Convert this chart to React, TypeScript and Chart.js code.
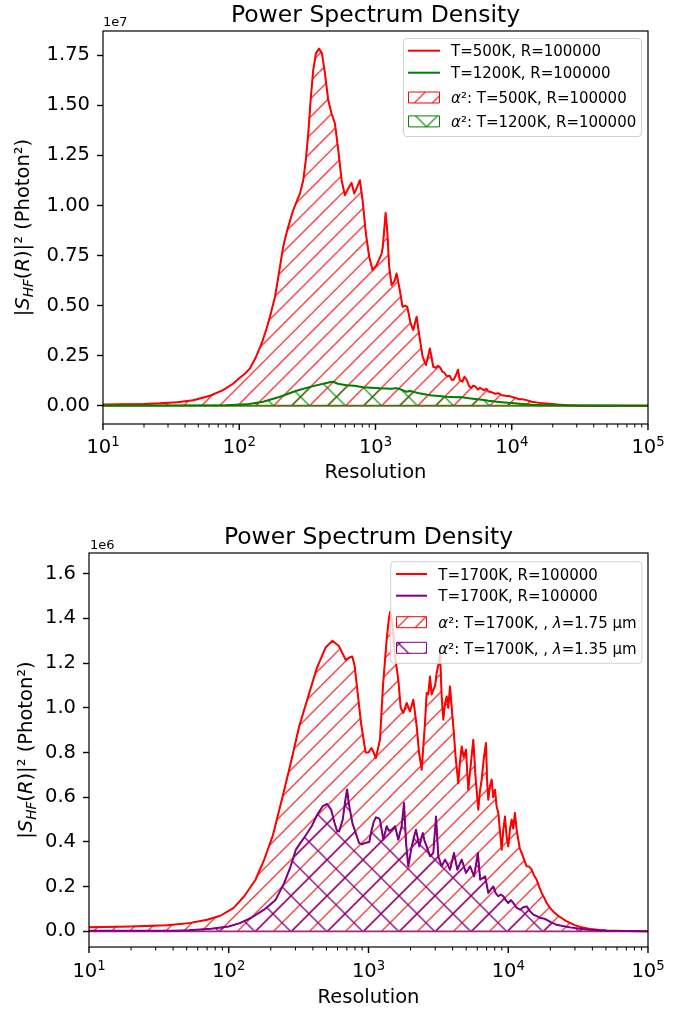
import React, { useEffect, useRef } from 'react';
import { Chart, registerables } from 'chart.js';

Chart.register(...registerables);

// ---------------- DATA ----------------
const TITLE = 'Power Spectrum Density';
const X_TITLE = 'Resolution';
const X_DECADES = [1, 2, 3, 4, 5];
const X_MINOR_MULT = [2, 3, 4, 5, 6, 7, 8, 9];
const TOP_Y_TICKS = [0, 0.25, 0.5, 0.75, 1.0, 1.25, 1.5, 1.75];
const BOT_Y_TICKS = [0, 0.2, 0.4, 0.6, 0.8, 1.0, 1.2, 1.4, 1.6];
const BASELINE_R = [10, 100000];
const BASELINE_V = [0, 0];

// top chart, values in units of 1e7
const TOP_RED_R = [10, 20, 26, 35, 46, 61, 76, 90, 101, 110, 120, 133, 146, 157, 168, 183, 199, 210, 225, 249, 279, 295, 308, 321, 334, 349, 365, 385, 405, 426, 450, 476, 504, 533, 564, 596, 631, 667, 698, 734, 768, 804, 850, 899, 952, 1019, 1109, 1130, 1153, 1186, 1219, 1260, 1312, 1387, 1428, 1492, 1580, 1650, 1710, 1811, 1893, 2004, 2120, 2218, 2345, 2508, 2654, 2780, 2880, 2990, 3100, 3200, 3350, 3500, 3620, 3740, 3880, 4030, 4150, 4340, 4500, 4670, 4850, 5030, 5200, 5420, 5650, 5850, 6050, 6300, 6500, 6750, 7100, 7550, 8000, 8430, 9000, 9750, 10500, 11270, 12100, 13040, 14000, 15080, 16800, 18800, 21500, 25300, 30000, 40000, 100000];
const TOP_RED_V = [0.006, 0.009, 0.012, 0.018, 0.028, 0.05, 0.078, 0.11, 0.14, 0.16, 0.187, 0.245, 0.311, 0.375, 0.444, 0.544, 0.694, 0.793, 0.877, 0.977, 1.06, 1.126, 1.226, 1.359, 1.525, 1.675, 1.758, 1.783, 1.758, 1.658, 1.525, 1.459, 1.409, 1.276, 1.126, 1.051, 1.085, 1.113, 1.06, 1.093, 1.126, 1.026, 0.86, 0.744, 0.677, 0.702, 0.76, 0.79, 0.86, 0.963, 0.877, 0.694, 0.602, 0.627, 0.66, 0.594, 0.494, 0.5, 0.494, 0.411, 0.378, 0.444, 0.328, 0.245, 0.203, 0.286, 0.195, 0.19, 0.2, 0.19, 0.17, 0.165, 0.146, 0.15, 0.13, 0.13, 0.15, 0.18, 0.13, 0.12, 0.145, 0.13, 0.1, 0.088, 0.1, 0.096, 0.08, 0.09, 0.083, 0.077, 0.085, 0.071, 0.068, 0.06, 0.062, 0.053, 0.05, 0.047, 0.04, 0.033, 0.032, 0.027, 0.02, 0.017, 0.012, 0.01, 0.006, 0.003, 0.001, 0, 0];

const TOP_GREEN_R = [10, 80, 113, 150, 199, 263, 348, 461, 490, 530, 610, 700, 810, 1075, 1300, 1419, 1500, 1684, 1800, 2100, 2502, 3320, 3900, 4340, 4850, 5420, 6050, 6750, 7550, 8430, 9400, 10480, 12000, 14000, 17000, 20000, 30000, 100000];
const TOP_GREEN_V = [0.001, 0.002, 0.007, 0.02, 0.045, 0.075, 0.098, 0.117, 0.12, 0.11, 0.103, 0.1, 0.092, 0.087, 0.085, 0.088, 0.084, 0.07, 0.074, 0.062, 0.053, 0.045, 0.043, 0.042, 0.037, 0.034, 0.03, 0.025, 0.021, 0.018, 0.015, 0.012, 0.009, 0.005, 0.003, 0.002, 0.001, 0];

// bottom chart, values in units of 1e6
const BOT_RED_R = [10, 20, 36, 52, 70, 87, 108, 129, 155, 179, 207, 240, 277, 320, 370, 428, 494, 552, 616, 686, 730, 765, 795, 822, 885, 954, 1000, 1049, 1090, 1128, 1208, 1270, 1349, 1400, 1430, 1480, 1549, 1634, 1700, 1775, 1876, 1981, 2093, 2213, 2300, 2403, 2536, 2608, 2680, 2754, 2830, 2910, 3000, 3074, 3180, 3249, 3340, 3430, 3530, 3627, 3720, 3831, 3940, 4047, 4200, 4394, 4500, 4642, 4800, 4987, 5080, 5180, 5400, 5622, 5850, 6107, 6250, 6454, 6700, 6931, 7050, 7197, 7400, 7616, 7800, 8043, 8250, 8493, 8750, 8977, 9200, 9480, 9750, 10010, 10300, 10580, 10850, 11170, 11500, 11800, 12100, 12470, 13000, 13550, 14100, 14710, 15300, 15980, 16600, 17350, 18100, 18840, 19900, 20990, 22500, 24100, 25800, 27660, 30000, 32600, 38450, 45000, 51000, 70000, 100000];
const BOT_RED_V = [0.019, 0.022, 0.027, 0.037, 0.052, 0.07, 0.104, 0.157, 0.23, 0.32, 0.43, 0.59, 0.75, 0.92, 1.05, 1.18, 1.27, 1.3, 1.275, 1.215, 1.225, 1.23, 1.19, 1.11, 0.93, 0.8, 0.8, 0.82, 0.8, 0.775, 0.857, 1.1, 1.305, 1.4, 1.43, 1.38, 1.23, 1.126, 1.0, 0.977, 1.022, 0.984, 1.036, 0.917, 0.8, 0.723, 0.932, 1.066, 1.06, 1.14, 1.06, 1.081, 1.1, 1.156, 1.2, 1.245, 1.05, 0.947, 1.02, 1.051, 1.0, 1.096, 1.0, 0.917, 0.78, 0.664, 0.75, 0.827, 0.78, 0.813, 0.72, 0.634, 0.75, 0.857, 0.68, 0.544, 0.62, 0.679, 0.78, 0.843, 0.68, 0.589, 0.65, 0.679, 0.6, 0.634, 0.56, 0.53, 0.44, 0.365, 0.45, 0.514, 0.42, 0.38, 0.46, 0.5, 0.46, 0.53, 0.45, 0.41, 0.37, 0.351, 0.32, 0.291, 0.29, 0.276, 0.25, 0.231, 0.2, 0.172, 0.15, 0.127, 0.105, 0.089, 0.072, 0.06, 0.047, 0.038, 0.028, 0.02, 0.011, 0.006, 0.004, 0.002, 0.001];

const BOT_PURPLE_R = [10, 40, 52, 75, 100, 120, 144, 179, 216, 249, 277, 302, 325, 356, 392, 428, 470, 505, 540, 572, 595, 616, 654, 680, 703, 720, 740, 770, 796, 830, 857, 900, 942, 1013, 1050, 1090, 1130, 1175, 1208, 1277, 1349, 1400, 1466, 1549, 1634, 1726, 1796, 1857, 1926, 2039, 2110, 2188, 2312, 2445, 2530, 2608, 2754, 2910, 3042, 3159, 3338, 3528, 3680, 3831, 4090, 4322, 4642, 4987, 5335, 5700, 6060, 6298, 6838, 7197, 7817, 8150, 8493, 8850, 9227, 9600, 10010, 10440, 10880, 11500, 12170, 12800, 13550, 14300, 15130, 16000, 16890, 17800, 18840, 20300, 22030, 27660, 36260, 50000, 100000];
const BOT_PURPLE_V = [0.003, 0.003, 0.005, 0.012, 0.022, 0.037, 0.06, 0.097, 0.14, 0.216, 0.29, 0.365, 0.395, 0.43, 0.47, 0.52, 0.56, 0.57, 0.545, 0.485, 0.45, 0.447, 0.5, 0.58, 0.635, 0.58, 0.537, 0.48, 0.455, 0.42, 0.395, 0.39, 0.395, 0.4, 0.45, 0.49, 0.51, 0.507, 0.5, 0.41, 0.47, 0.45, 0.455, 0.47, 0.41, 0.47, 0.574, 0.395, 0.291, 0.38, 0.42, 0.455, 0.38, 0.44, 0.4, 0.38, 0.336, 0.351, 0.514, 0.336, 0.291, 0.321, 0.3, 0.276, 0.351, 0.276, 0.321, 0.261, 0.291, 0.246, 0.351, 0.231, 0.246, 0.172, 0.201, 0.17, 0.157, 0.165, 0.157, 0.14, 0.127, 0.14, 0.127, 0.105, 0.097, 0.108, 0.112, 0.09, 0.075, 0.068, 0.06, 0.058, 0.052, 0.04, 0.03, 0.018, 0.008, 0.003, 0.001];

// ---------------- helpers ----------------
const FAMILY = '"DejaVu Sans", "Liberation Sans", sans-serif';
type Part = { t: string; it?: boolean; s?: number; dy?: number };

function fontStr(size: number, italic?: boolean) {
  return `${italic ? 'italic ' : ''}${size}px ${FAMILY}`;
}

function drawRich(ctx: CanvasRenderingContext2D, parts: Part[], x: number, y: number, size: number, align: 'left' | 'center') {
  const widths = parts.map((p) => {
    ctx.font = fontStr(size * (p.s || 1), p.it);
    return ctx.measureText(p.t).width;
  });
  const total = widths.reduce((a, b) => a + b, 0);
  let cx = align === 'center' ? x - total / 2 : x;
  ctx.textAlign = 'left';
  ctx.textBaseline = 'alphabetic';
  parts.forEach((p, i) => {
    ctx.font = fontStr(size * (p.s || 1), p.it);
    ctx.fillText(p.t, cx, y + (p.dy || 0));
    cx += widths[i];
  });
}

function hatch(color: string, lw: number, spacing: number, cross: boolean, ox: number, oy: number) {
  const T = 36;
  const cv = document.createElement('canvas');
  cv.width = T;
  cv.height = T;
  const g = cv.getContext('2d')!;
  g.strokeStyle = color;
  g.lineWidth = lw;
  g.beginPath();
  for (let c = -T; c <= 3 * T; c += spacing) {
    g.moveTo(c, 0);
    g.lineTo(c - T, T);
  }
  if (cross) {
    for (let c = -2 * T; c <= 2 * T; c += spacing) {
      g.moveTo(c, 0);
      g.lineTo(c + T, T);
    }
  }
  g.stroke();
  const p = g.createPattern(cv, 'repeat')!;
  p.setTransform(new DOMMatrix([1, 0, 0, 1, ox, oy]));
  return p;
}

function series(R: number[], V: number[]) {
  return R.map((r, i) => ({ x: r, y: V[i] }));
}

function lineDs(R: number[], V: number[], color: string, width: number, order: number) {
  return { data: series(R, V), borderColor: color, borderWidth: width, borderJoinStyle: 'round', pointRadius: 0, fill: false, tension: 0, order };
}

function fillDs(R: number[], V: number[], color: string, pattern: CanvasPattern, order: number) {
  return { data: series(R, V), borderColor: color, borderWidth: 1, pointRadius: 0, fill: 'origin', backgroundColor: pattern, tension: 0, order };
}

const Y_LABEL: Part[] = [
  { t: '|' },
  { t: 'S', it: true },
  { t: 'HF', it: true, s: 0.7, dy: 4 },
  { t: '(' },
  { t: 'R', it: true },
  { t: ')|' },
  { t: '²' },
  { t: ' (Photon²)' },
];

function roundRect(ctx: CanvasRenderingContext2D, x: number, y: number, w: number, h: number, r: number) {
  ctx.beginPath();
  ctx.moveTo(x + r, y);
  ctx.lineTo(x + w - r, y);
  ctx.quadraticCurveTo(x + w, y, x + w, y + r);
  ctx.lineTo(x + w, y + h - r);
  ctx.quadraticCurveTo(x + w, y + h, x + w - r, y + h);
  ctx.lineTo(x + r, y + h);
  ctx.quadraticCurveTo(x, y + h, x, y + h - r);
  ctx.lineTo(x, y + r);
  ctx.quadraticCurveTo(x, y, x + r, y);
  ctx.closePath();
}

function decorPlugin(spec: any) {
  return {
    id: 'mplDecor',
    afterDraw(chart: any) {
      const ctx: CanvasRenderingContext2D = chart.ctx;
      const a = chart.chartArea;
      const xs = chart.scales.x;
      const cx = (a.left + a.right) / 2;
      ctx.save();
      // frame
      ctx.strokeStyle = '#000';
      ctx.lineWidth = 1.2;
      ctx.strokeRect(a.left, a.top, a.right - a.left, a.bottom - a.top);
      // x ticks
      ctx.lineWidth = 1.4;
      X_DECADES.forEach((d) => {
        const px = xs.getPixelForValue(Math.pow(10, d));
        ctx.beginPath();
        ctx.moveTo(px, a.bottom);
        ctx.lineTo(px, a.bottom + 6);
        ctx.stroke();
      });
      ctx.lineWidth = 1;
      X_DECADES.slice(0, -1).forEach((d) => {
        X_MINOR_MULT.forEach((m) => {
          const px = xs.getPixelForValue(m * Math.pow(10, d));
          ctx.beginPath();
          ctx.moveTo(px, a.bottom);
          ctx.lineTo(px, a.bottom + 3.5);
          ctx.stroke();
        });
      });
      ctx.fillStyle = '#000';
      X_DECADES.forEach((d) => {
        const px = xs.getPixelForValue(Math.pow(10, d));
        drawRich(ctx, [{ t: '10' }, { t: String(d), s: 0.68, dy: -6.7 }], px, spec.xLabelY, 19.5, 'center');
      });
      drawRich(ctx, [{ t: X_TITLE }], cx, spec.xTitleY, 19.5, 'center');
      drawRich(ctx, [{ t: TITLE }], cx, spec.titleY, 23.5, 'center');
      drawRich(ctx, [{ t: spec.offsetText }], spec.offsetX, spec.offsetY, 13, 'left');
      // y label
      ctx.save();
      ctx.translate(spec.yLabelX, (a.top + a.bottom) / 2);
      ctx.rotate(-Math.PI / 2);
      drawRich(ctx, Y_LABEL, 0, 0, 19.5, 'center');
      ctx.restore();
      // legend
      const L = spec.legend;
      roundRect(ctx, L.x, L.y, L.w, L.h, 3.5);
      ctx.fillStyle = 'rgba(255,255,255,0.8)';
      ctx.fill();
      ctx.strokeStyle = '#d0d0d0';
      ctx.lineWidth = 1;
      ctx.stroke();
      L.items.forEach((it: any, i: number) => {
        const cy = L.rows[i];
        if (it.kind === 'line') {
          ctx.strokeStyle = it.color;
          ctx.lineWidth = 2;
          ctx.beginPath();
          ctx.moveTo(L.h0, cy);
          ctx.lineTo(L.h1, cy);
          ctx.stroke();
        } else {
          ctx.beginPath();
          ctx.rect(L.h0 + 0.5, cy - 5.5, L.h1 - L.h0 - 1, 11);
          ctx.fillStyle = it.pattern;
          ctx.fill();
          ctx.strokeStyle = it.color;
          ctx.lineWidth = 1;
          ctx.stroke();
        }
        ctx.fillStyle = '#000';
        drawRich(ctx, it.parts, L.tx, cy + 5.7, 15, 'left');
      });
      ctx.restore();
    },
  };
}

function buildConfig(spec: any): any {
  return {
    type: 'line',
    data: { datasets: spec.datasets },
    options: {
      responsive: false,
      maintainAspectRatio: false,
      animation: false,
      devicePixelRatio: 1,
      events: [],
      layout: { padding: spec.padding },
      plugins: { legend: { display: false }, title: { display: false }, tooltip: { enabled: false } },
      scales: {
        x: {
          type: 'logarithmic',
          min: 10,
          max: 100000,
          grid: { display: false },
          border: { display: false },
          ticks: { display: false },
          afterFit: (s: any) => {
            s.height = spec.xHeight;
          },
        },
        y: {
          type: 'linear',
          min: spec.yMin,
          max: spec.yMax,
          grid: { display: true, drawOnChartArea: false, drawTicks: true, tickLength: 6, tickWidth: 1.4, tickColor: '#000' },
          border: { display: false },
          ticks: {
            font: { family: FAMILY, size: 19.5 },
            color: '#000',
            padding: 7,
            callback: (v: any) => Number(v).toFixed(spec.decimals),
          },
          afterBuildTicks: (s: any) => {
            s.ticks = spec.yTicks.map((v: number) => ({ value: v }));
          },
          afterFit: (s: any) => {
            s.width = spec.yWidth;
          },
        },
      },
    },
    plugins: [decorPlugin(spec)],
  };
}

export default function App() {
  const topRef = useRef<HTMLCanvasElement>(null);
  const botRef = useRef<HTMLCanvasElement>(null);

  useEffect(() => {
    const RED = '#ff0000';
    const GREEN = '#008000';
    const PURPLE = '#800080';

    const topRedPat = hatch(RED, 1.1, 18, false, 13.3, 0);
    const topGreenPat = hatch(GREEN, 1.2, 36, true, 12.5, 0.8);
    const botRedPat = hatch(RED, 1.1, 18, false, 14.7, 0);
    const botPurplePat = hatch(PURPLE, 1.3, 36, true, 21, 11.7);

    const topSpec = {
      padding: { top: 31, right: 43, left: 0, bottom: 0 },
      yWidth: 103,
      xHeight: 82,
      yMin: -0.091,
      yMax: 1.871,
      yTicks: TOP_Y_TICKS,
      decimals: 2,
      titleY: 22,
      offsetText: '1e7',
      offsetX: 103,
      offsetY: 26,
      xLabelY: 453,
      xTitleY: 478,
      yLabelX: 29.3,
      datasets: [
        lineDs(TOP_RED_R, TOP_RED_V, RED, 2, 2),
        lineDs(TOP_GREEN_R, TOP_GREEN_V, GREEN, 2, 1),
        fillDs(TOP_RED_R, TOP_RED_V, RED, topRedPat, 6),
        fillDs(TOP_GREEN_R, TOP_GREEN_V, GREEN, topGreenPat, 5),
        lineDs(BASELINE_R, BASELINE_V, '#5a6e1c', 1.8, 3),
      ],
      legend: {
        x: 403.5,
        y: 38.5,
        w: 238,
        h: 98,
        h0: 408,
        h1: 440,
        tx: 451,
        rows: [50.7, 72.7, 97.5, 121.4],
        items: [
          { kind: 'line', color: RED, parts: [{ t: 'T=500K, R=100000' }] },
          { kind: 'line', color: GREEN, parts: [{ t: 'T=1200K, R=100000' }] },
          { kind: 'patch', color: RED, pattern: topRedPat, parts: [{ t: 'α', it: true }, { t: '²' }, { t: ': T=500K, R=100000' }] },
          { kind: 'patch', color: GREEN, pattern: topGreenPat, parts: [{ t: 'α', it: true }, { t: '²' }, { t: ': T=1200K, R=100000' }] },
        ],
      },
    };

    const botSpec = {
      padding: { top: 47, right: 43, left: 0, bottom: 0 },
      yWidth: 89,
      xHeight: 65,
      yMin: -0.0698,
      yMax: 1.6926,
      yTicks: BOT_Y_TICKS,
      decimals: 1,
      titleY: 38.3,
      offsetText: '1e6',
      offsetX: 90,
      offsetY: 43.3,
      xLabelY: 471,
      xTitleY: 497,
      yLabelX: 31.5,
      datasets: [
        lineDs(BOT_RED_R, BOT_RED_V, RED, 2, 2),
        lineDs(BOT_PURPLE_R, BOT_PURPLE_V, PURPLE, 2, 1),
        fillDs(BOT_RED_R, BOT_RED_V, RED, botRedPat, 6),
        fillDs(BOT_PURPLE_R, BOT_PURPLE_V, PURPLE, botPurplePat, 5),
        lineDs(BASELINE_R, BASELINE_V, '#9a2a86', 1.8, 3),
      ],
      legend: {
        x: 390.7,
        y: 55.7,
        w: 251.3,
        h: 101.6,
        h0: 396,
        h1: 427,
        tx: 438.3,
        rows: [68, 89.7, 116.2, 141.8],
        items: [
          { kind: 'line', color: RED, parts: [{ t: 'T=1700K, R=100000' }] },
          { kind: 'line', color: PURPLE, parts: [{ t: 'T=1700K, R=100000' }] },
          { kind: 'patch', color: RED, pattern: botRedPat, parts: [{ t: 'α', it: true }, { t: '²' }, { t: ': T=1700K, , ' }, { t: 'λ', it: true }, { t: '=1.75 μm' }] },
          { kind: 'patch', color: PURPLE, pattern: botPurplePat, parts: [{ t: 'α', it: true }, { t: '²' }, { t: ': T=1700K, , ' }, { t: 'λ', it: true }, { t: '=1.35 μm' }] },
        ],
      },
    };

    const c1 = new Chart(topRef.current!, buildConfig(topSpec));
    const c2 = new Chart(botRef.current!, buildConfig(botSpec));
    return () => {
      c1.destroy();
      c2.destroy();
    };
  }, []);

  return (
    <div style={{ position: 'absolute', left: 0, top: 0, width: 691, height: 1012, background: '#fff' }}>
      <canvas ref={topRef} width={691} height={506} style={{ position: 'absolute', left: 0, top: 0, width: 691, height: 506 }} />
      <canvas ref={botRef} width={691} height={506} style={{ position: 'absolute', left: 0, top: 506, width: 691, height: 506 }} />
    </div>
  );
}
